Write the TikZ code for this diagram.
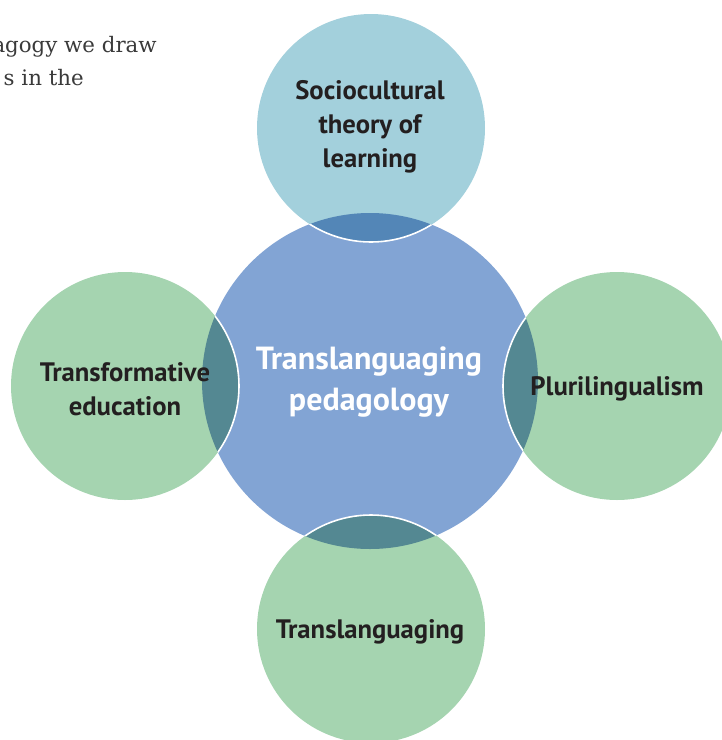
\documentclass[tikz,border=0pt]{standalone}
\usepackage{fontspec}
\setsansfont{PT Sans}
\newfontfamily\bodyfont{DejaVu Serif}
\usepackage{tikz}
\usepackage{color}

\begin{document}
\begin{tikzpicture}[x=0.75pt,y=-0.75pt]
\definecolor{fillColor}{RGB}{255,255,255}
\definecolor{hubColor}{RGB}{130,164,212}
\definecolor{topColor}{RGB}{163,208,220}
\definecolor{satColor}{RGB}{165,212,176}
\definecolor{lensTop}{RGB}{83,134,183}
\definecolor{lensSat}{RGB}{84,136,146}
\definecolor{textColor}{RGB}{35,31,32}
\definecolor{bodyColor}{RGB}{58,58,58}
\tikzset{
  hub/.style={circle,fill=hubColor,minimum size=252pt,inner sep=0pt,outer sep=0pt},
  sat/.style={circle,fill=satColor,minimum size=171pt,inner sep=0pt,outer sep=0pt},
  rim/.style={draw=white,line width=1.2pt},
  hubLabel/.style={text=white,align=center,font=\sffamily\bfseries\fontsize{24}{30.5}\selectfont},
  satLabel/.style={text=textColor,align=center,font=\sffamily\bfseries\fontsize{20}{25.5}\selectfont},
  bodyLine/.style={text=bodyColor,anchor=base east,inner sep=0pt,font=\bodyfont\fontsize{16}{20}\selectfont}
}
\path[use as bounding box,fill=fillColor] (0,0) rectangle (722,740);
\begin{scope}
\path[clip] (0,0) rectangle (722,740);

% body text cut by the page edge
\node[bodyLine] (line1) at (157,52) {agogy we draw};
\node[bodyLine] (line2) at (84,85) {s in the};

% hub and the four circles round it
\node[hub] (hub) at (370,381) {};
\node[sat,fill=topColor] (north) at (371,128) {};
\node[sat] (west) at (125,386) {};
\node[sat] (east) at (617,386) {};
\node[sat] (south) at (371,629) {};

% overlaps
\begin{scope}
\path[clip] (hub.center) circle (126pt);
\fill[lensTop] (north.center) circle (85.5pt);
\fill[lensSat] (west.center) circle (85.5pt);
\fill[lensSat] (east.center) circle (85.5pt);
\fill[lensSat] (south.center) circle (85.5pt);
\draw[rim] (north.center) circle (85.5pt);
\draw[rim] (west.center) circle (85.5pt);
\draw[rim] (east.center) circle (85.5pt);
\draw[rim] (south.center) circle (85.5pt);
\end{scope}

% labels
\node[hubLabel] (hubText) at (369,382) {Translanguaging\\pedagology};
\node[satLabel] (northText) at (370,127) {Sociocultural\\theory of\\learning};
\node[satLabel] (westText) at (125,389) {Transformative\\education};
\node[satLabel] (eastText) at (617,389) {Plurilingualism};
\node[satLabel] (southText) at (370,632) {Translanguaging};
\end{scope}
\end{tikzpicture}
\end{document}
